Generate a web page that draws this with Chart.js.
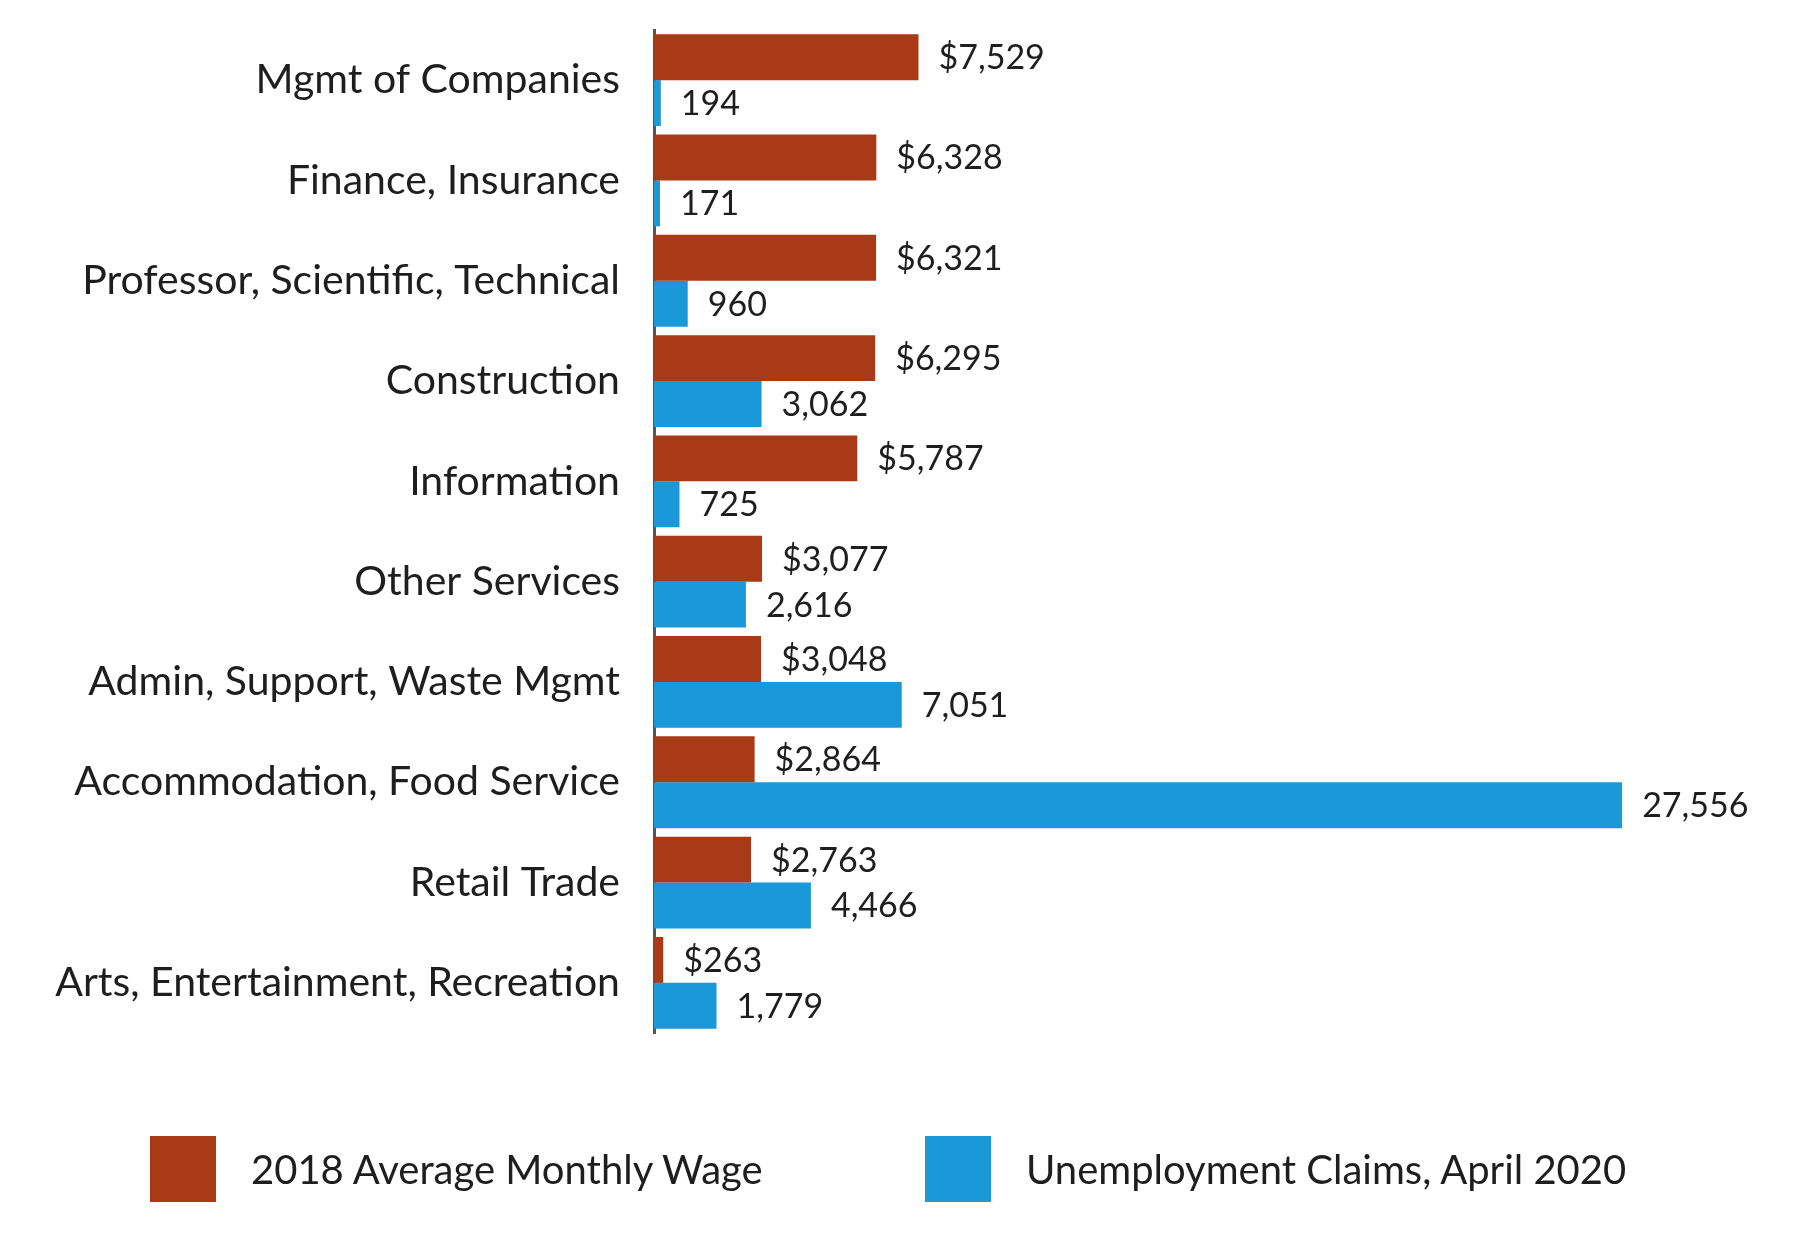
<!DOCTYPE html>
<html>
<head>
<meta charset="utf-8">
<script src="https://cdn.jsdelivr.net/npm/chart.js@4"></script>
<style>
  html, body { margin: 0; padding: 0; background: #fff; }
  #wrap { position: relative; width: 1800px; height: 1239px; }
  #legend { position: absolute; top: 1136px; left: 0; width: 1800px; height: 66px; font-family: Lato, sans-serif; font-size: 40px; color: #1e1e1e; }
  .item { position: absolute; top: 0; height: 66px; display: flex; align-items: center; }
  .box { width: 66px; height: 66px; margin-right: 35px; }
</style>
</head>
<body>
<div id="wrap">
  <canvas id="chart"></canvas>
  <div id="legend">
    <div class="item" style="left:150px"><div class="box" style="background:#a83a18"></div><span id="lab0"></span></div>
    <div class="item" style="left:925px"><div class="box" style="background:#1b98d7"></div><span id="lab1"></span></div>
  </div>
</div>
<script>
  const industries = [
    "Mgmt of Companies",
    "Finance, Insurance",
    "Professor, Scientific, Technical",
    "Construction",
    "Information",
    "Other Services",
    "Admin, Support, Waste Mgmt",
    "Accommodation, Food Service",
    "Retail Trade",
    "Arts, Entertainment, Recreation"
  ];
  const avgWage2018 = [7529, 6328, 6321, 6295, 5787, 3077, 3048, 2864, 2763, 263];
  const claimsApril2020 = [194, 171, 960, 3062, 725, 2616, 7051, 27556, 4466, 1779];
  const seriesNames = ["2018 Average Monthly Wage", "Unemployment Claims, April 2020"];

  const RED = '#a83a18';
  const BLUE = '#1b98d7';

  document.getElementById('lab0').innerText = seriesNames[0];
  document.getElementById('lab1').innerText = seriesNames[1];

  // labels at the end of each bar
  const barLabels = {
    id: 'barLabels',
    afterDatasetsDraw(chart) {
      const ctx = chart.ctx;
      ctx.save();
      ctx.font = '34px Lato, sans-serif';
      ctx.fillStyle = '#1e1e1e';
      ctx.textAlign = 'left';
      ctx.textBaseline = 'middle';
      chart.data.datasets.forEach((ds, i) => {
        const meta = chart.getDatasetMeta(i);
        meta.data.forEach((bar, j) => {
          const v = ds.data[j];
          const txt = (i === 0 ? '$' : '') + v.toLocaleString('en-US');
          ctx.fillText(txt, bar.x + 20, bar.y + 1);
        });
      });
      ctx.restore();
    }
  };

  new Chart(document.getElementById('chart'), {
    type: 'bar',
    data: {
      labels: industries,
      datasets: [
        { label: seriesNames[0], data: avgWage2018, backgroundColor: RED },
        { label: seriesNames[1], data: claimsApril2020, backgroundColor: BLUE }
      ]
    },
    options: {
      indexAxis: 'y',
      responsive: true,
      maintainAspectRatio: false,
      animation: false,
      categoryPercentage: 0.915,
      barPercentage: 1.0,
      layout: { padding: { top: 30, bottom: 206, left: 0, right: 92 } },
      scales: {
        x: { display: false, min: 0, max: 30000 },
        y: {
          afterFit: (scale) => {
            scale.width = 654;
            scale.paddingTop = 0;
            scale.paddingBottom = 0;
          },
          grid: { display: false },
          border: { display: true, color: '#555', width: 3 },
          ticks: {
            color: '#1e1e1e',
            padding: 26,
            font: { family: 'Lato, sans-serif', size: 41 }
          }
        }
      },
      plugins: {
        legend: { display: false },
        tooltip: { enabled: false }
      }
    },
    plugins: [barLabels]
  });
</script>
</body>
</html>
